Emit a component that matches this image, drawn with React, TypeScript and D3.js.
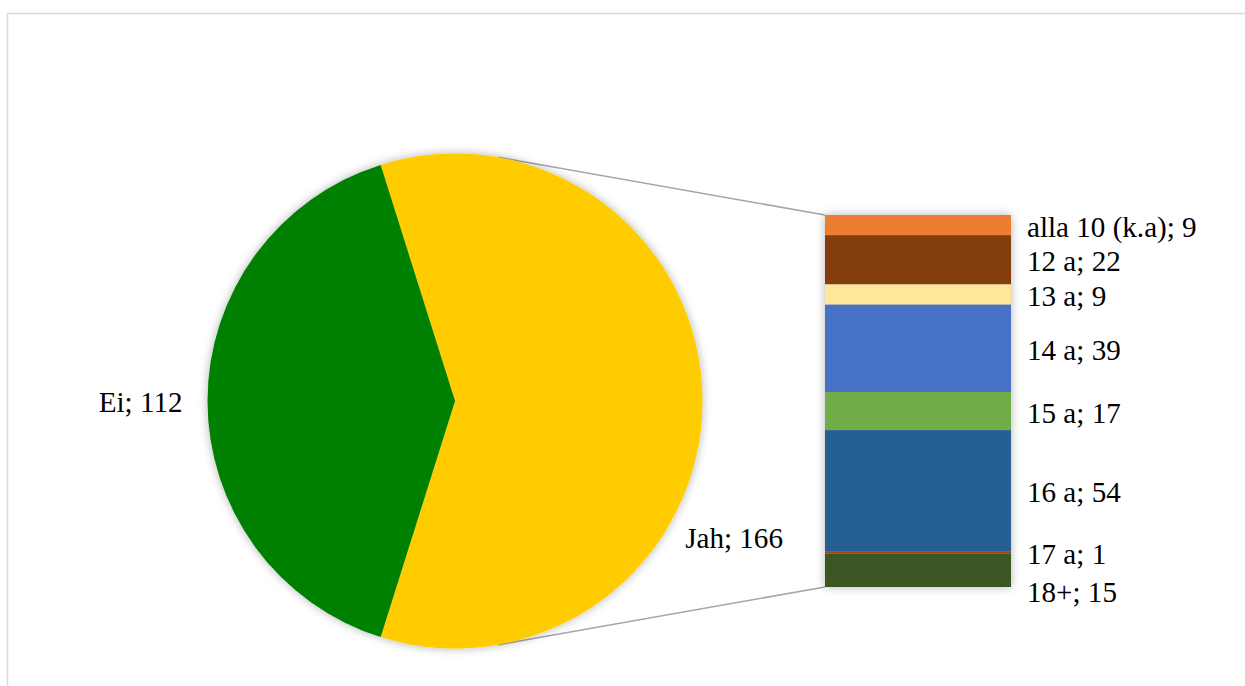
import React from "react";
import * as d3 from "d3";

const pieCategories = ["Jah", "Ei"];
const pieValues = [166, 112];
const pieColors = ["#ffcc00", "#008000"];

const barCategories = ["alla 10 (k.a)", "12 a", "13 a", "14 a", "15 a", "16 a", "17 a", "18+"];
const barValues = [9, 22, 9, 39, 17, 54, 1, 15];
const barColors = ["#ed7d31", "#843c0c", "#ffe699", "#4472c4", "#70ad47", "#255e91", "#9e480e", "#3b5623"];

const W = 1245;
const H = 686;
const FONT = "'Liberation Serif', 'Times New Roman', serif";
const FS = 29.1;

export default function App() {
  const cx = 455, cy = 401, r = 247.5;
  const total = d3.sum(pieValues);
  const jahSpan = (pieValues[0] / total) * 2 * Math.PI;
  const start = Math.PI / 2 - jahSpan / 2;
  const pie = d3.pie<number>().sort(null).value((d) => d)
    .startAngle(start).endAngle(start + 2 * Math.PI);
  const arcs = pie(pieValues);
  const arcGen = d3.arc<d3.PieArcDatum<number>>().innerRadius(0).outerRadius(r);

  // bar
  const bx0 = 825, bx1 = 1011, by0 = 215, by1 = 587;
  const barTotal = d3.sum(barValues);
  const y = d3.scaleLinear().domain([0, barTotal]).range([by0, by1]);
  const cum = d3.cumsum(barValues);
  const segs = barValues.map((v, i) => ({ v, i, y0: y(cum[i] - v), y1: y(cum[i]) }));

  // label layout for bar
  const labelYs: number[] = [];
  segs.forEach((s, i) => {
    let c = (s.y0 + s.y1) / 2;
    if (i > 0 && c - labelYs[i - 1] < 34) c = labelYs[i - 1] + 38;
    labelYs.push(c);
  });

  // tangent points
  const tangent = (px: number, py: number, upper: boolean) => {
    const dx = px - cx, dy = py - cy;
    const d = Math.hypot(dx, dy);
    const base = Math.atan2(dy, dx);
    const off = Math.acos(r / d);
    const a = upper ? base - off : base + off;
    return [cx + r * Math.cos(a), cy + r * Math.sin(a)];
  };
  const tTop = tangent(bx0, by0, true);
  const tBot = tangent(bx0, by1, false);

  // pie labels
  const mid = (a: d3.PieArcDatum<number>) => (a.startAngle + a.endAngle) / 2;
  const eiA = mid(arcs[1]);
  const eiPos = [cx + (r + 25) * Math.sin(eiA), cy - (r + 25) * Math.cos(eiA)];
  const jahA = mid(arcs[0]) + (26 * Math.PI) / 180;
  const jahPos = [cx + (r + 63) * Math.sin(jahA), cy - (r + 63) * Math.cos(jahA)];

  return (
    <svg width={W} height={H} style={{ position: "absolute", left: 0, top: 0, background: "#fff" }}>
      <defs>
        <filter id="sh" x="-20%" y="-20%" width="140%" height="140%">
          <feDropShadow dx="0" dy="0" stdDeviation="5" floodColor="#000" floodOpacity="0.3" />
        </filter>
      </defs>
      <rect x={7.5} y={13.5} width={W} height={H} fill="#fff" stroke="#d9d9d9" strokeWidth={1.5} />
      <line x1={tTop[0]} y1={tTop[1]} x2={bx0} y2={by0} stroke="#a6a6a6" strokeWidth={1.5} />
      <line x1={tBot[0]} y1={tBot[1]} x2={bx0} y2={by1} stroke="#a6a6a6" strokeWidth={1.5} />
      <g transform={`translate(${cx},${cy})`} filter="url(#sh)">
        {arcs.map((a, i) => (
          <path key={pieCategories[i]} d={arcGen(a) || ""} fill={pieColors[i]} />
        ))}
      </g>
      <g filter="url(#sh)">
        {segs.map((s) => (
          <rect key={barCategories[s.i]} x={bx0} y={s.y0} width={bx1 - bx0} height={s.y1 - s.y0} fill={barColors[s.i]} />
        ))}
      </g>
      <g style={{ fontFamily: FONT }} fontSize={FS} fill="#000">
        <text x={eiPos[0]} y={eiPos[1] + 1} textAnchor="end" dominantBaseline="central">
          {`${pieCategories[1]}; ${pieValues[1]}`}
        </text>
        <text x={jahPos[0]} y={jahPos[1] + 1} textAnchor="middle" dominantBaseline="central">
          {`${pieCategories[0]}; ${pieValues[0]}`}
        </text>
        {segs.map((s) => (
          <text key={barCategories[s.i]} x={1027} y={labelYs[s.i] + 1.5} dominantBaseline="central">
            {`${barCategories[s.i]}; ${s.v}`}
          </text>
        ))}
      </g>
    </svg>
  );
}
